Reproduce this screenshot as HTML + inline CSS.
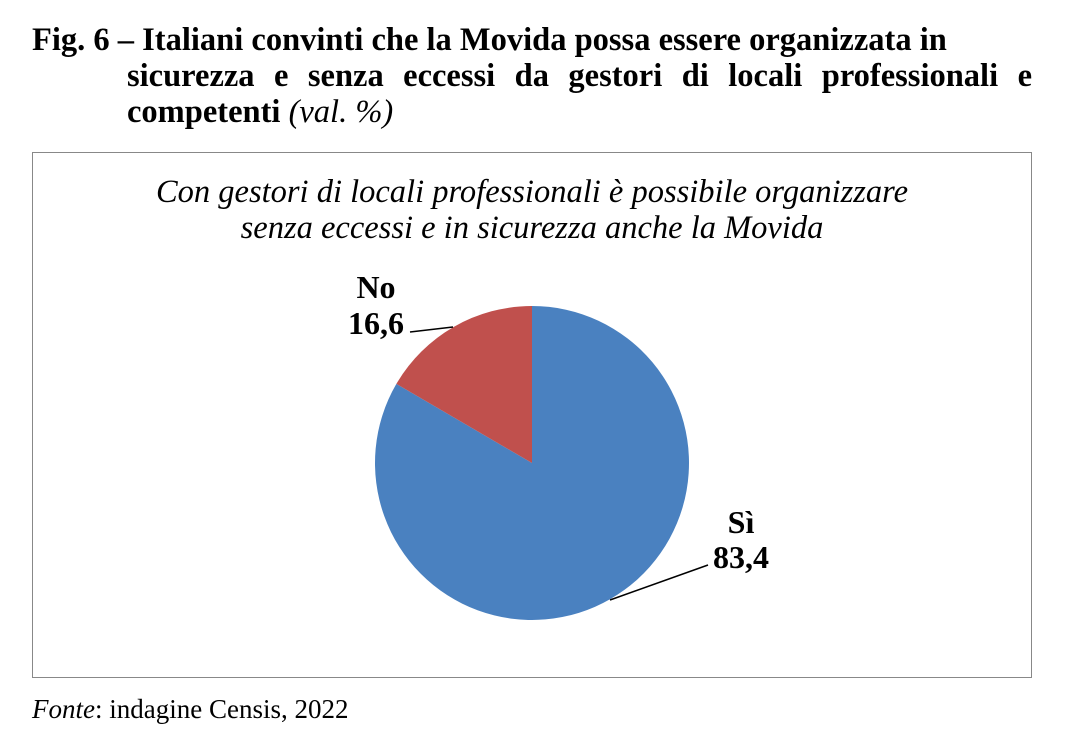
<!DOCTYPE html>
<html><head><meta charset="utf-8">
<style>
body{margin:0;width:1079px;height:734px;background:#fff;overflow:hidden;font-family:"Liberation Serif",serif;}
.t{position:absolute;font-weight:bold;font-size:32.5px;line-height:36px;color:#000;white-space:nowrap;}
</style></head><body>
<div class="t" style="left:32px;top:22px;">Fig. 6 – Italiani convinti che la Movida possa essere organizzata in</div>
<div class="t" style="left:127px;top:58px;width:905px;text-align:justify;text-align-last:justify;">sicurezza e senza eccessi da gestori di locali professionali e</div>
<div class="t" style="left:127px;top:94px;">competenti <span style="font-weight:normal;font-style:italic">(val. %)</span></div>
<svg width="1079" height="734" style="position:absolute;left:0;top:0">
<rect x="32.5" y="152.5" width="999" height="525" fill="none" stroke="#888" stroke-width="1"/>
<text x="532" y="202" text-anchor="middle" font-style="italic" font-size="32.5" font-family="Liberation Serif,serif">Con gestori di locali professionali è possibile organizzare</text>
<text x="532" y="238" text-anchor="middle" font-style="italic" font-size="32.5" font-family="Liberation Serif,serif">senza eccessi e in sicurezza anche la Movida</text>
<g id="slices"></g>
<line x1="410" y1="332" x2="453" y2="327" stroke="#000" stroke-width="1.5"/>
<line x1="708" y1="565" x2="610" y2="600" stroke="#000" stroke-width="1.5"/>
<g font-family="Liberation Serif,serif" font-weight="bold" font-size="32">
<text x="376" y="298" text-anchor="middle">No</text>
<text x="376" y="334" text-anchor="middle">16,6</text>
<text x="741" y="533" text-anchor="middle">Sì</text>
<text x="741" y="568" text-anchor="middle">83,4</text>
</g>
</svg>
<div style="position:absolute;left:32px;top:694px;font-size:27px;"><i>Fonte</i>: indagine Censis, 2022</div>
<script>
const categories=["Sì","No"];
const values=[83.4,16.6];
const colors=["#4A81C0","#C0504D"];
const cx=532,cy=463,r=157;
const g=document.getElementById('slices');
const total=values.reduce((a,b)=>a+b,0);
let a0=0;
values.forEach((v,i)=>{
  const a1=a0+v/total*2*Math.PI;
  const x0=cx+r*Math.sin(a0),y0=cy-r*Math.cos(a0);
  const x1=cx+r*Math.sin(a1),y1=cy-r*Math.cos(a1);
  const large=(a1-a0)>Math.PI?1:0;
  const p=document.createElementNS('http://www.w3.org/2000/svg','path');
  p.setAttribute('d',`M${cx},${cy} L${x0},${y0} A${r},${r} 0 ${large} 1 ${x1},${y1} Z`);
  p.setAttribute('fill',colors[i]);
  
  
  g.appendChild(p);
  a0=a1;
});
</script>
</body></html>
